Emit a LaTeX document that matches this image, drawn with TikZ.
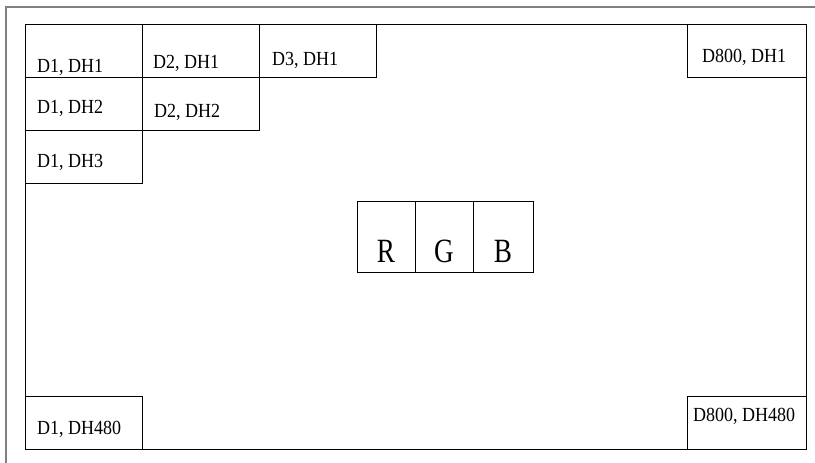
\documentclass[tikz,border=0pt]{standalone}
\usepackage{fontspec}
\setmainfont{Liberation Serif}
\usepackage{tikz}

\tikzset{
    lbl/.style={anchor=base west, inner sep=0pt, xscale=0.9, font=\fontsize{20}{24}\selectfont},
    big/.style={anchor=base, inner sep=0pt, xscale=0.8, font=\fontsize{34}{40}\selectfont},
    cell/.style={draw=black, line width=0.8pt}
}

\begin{document}
\begin{tikzpicture}[x=1pt, y=-1pt]
    \useasboundingbox (0,0) rectangle (815,463);
    % outer frame (top and left only)
    \draw[gray, line width=1.8pt] (815,7) -- (6,7) -- (6,463);
    % screen
    \draw[cell] (25,24) rectangle (806,449);
    % top left pixels
    \draw[cell] (25,24) rectangle (142,77);
    \draw[cell] (142,24) rectangle (259,77);
    \draw[cell] (259,24) rectangle (376,77);
    \draw[cell] (25,77) rectangle (142,130);
    \draw[cell] (142,77) rectangle (259,130);
    \draw[cell] (25,130) rectangle (142,183);
    % corners
    \draw[cell] (687,24) rectangle (806,77);
    \draw[cell] (25,396) rectangle (142,449);
    \draw[cell] (687,396) rectangle (806,449);
    % sub pixels
    \draw[cell] (357,201) rectangle (415,272);
    \draw[cell] (415,201) rectangle (473,272);
    \draw[cell] (473,201) rectangle (533,272);

    \node[lbl] (p11) at (37,72) {D1, DH1};
    \node[lbl] (p21) at (153,68) {D2, DH1};
    \node[lbl] (p31) at (272,65) {D3, DH1};
    \node[lbl] (pn1) at (702,63) {D800, DH1};
    \node[lbl] (p12) at (37,113) {D1, DH2};
    \node[lbl] (p22) at (154,117) {D2, DH2};
    \node[lbl] (p13) at (37,167) {D1, DH3};
    \node[lbl] (p1n) at (37,434) {D1, DH480};
    \node[lbl] (pnn) at (693,421) {D800, DH480};

    \node[big] (r) at (386,262) {R};
    \node[big] (g) at (444,262) {G};
    \node[big] (b) at (503,262) {B};
\end{tikzpicture}
\end{document}
